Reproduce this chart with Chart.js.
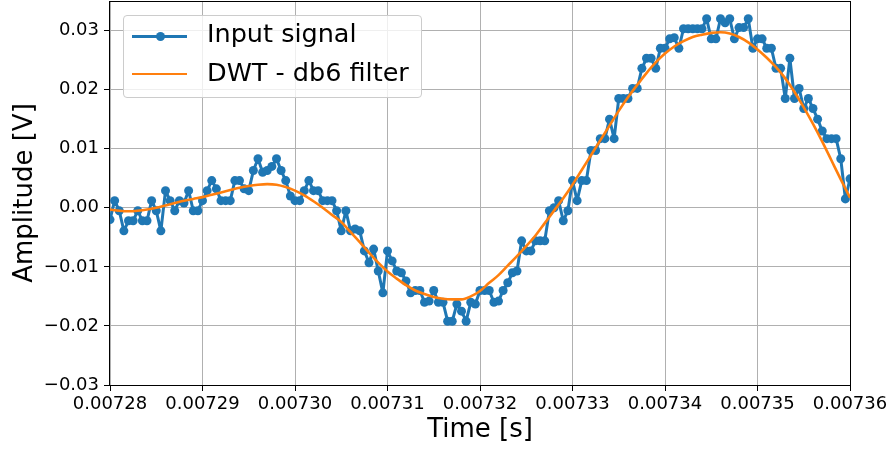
<!DOCTYPE html>
<html>
<head>
<meta charset="utf-8">
<script src="https://cdn.jsdelivr.net/npm/chart.js@4.4.0/dist/chart.umd.min.js"></script>
<style>
html,body{margin:0;padding:0;background:#fff;}
#wrap{position:relative;width:887px;height:449px;overflow:hidden;}
canvas{display:block;}
.leg{position:absolute;left:123px;top:15px;width:297px;height:81px;border:1px solid #cccccc;border-radius:4px;background:rgba(255,255,255,0.8);font-family:"DejaVu Sans",sans-serif;}
.leg .ln{position:absolute;height:3px;}
.leg .dot{position:absolute;width:9px;height:9px;border-radius:50%;background:#1f77b4;}
.leg .tx{position:absolute;font-size:25.5px;line-height:26px;color:#000;white-space:nowrap;}
</style>
</head>
<body>
<div id="wrap">
<canvas id="c" width="887" height="449"></canvas>
<div class="leg">
  <div class="ln" style="left:8px;top:18.5px;width:55px;background:#1f77b4;"></div>
  <div class="dot" style="left:31.5px;top:15.5px;"></div>
  <div class="tx" style="left:83px;top:4px;">Input signal</div>
  <div class="ln" style="left:8px;top:56.5px;width:55px;height:2.5px;background:#ff7f0e;"></div>
  <div class="tx" style="left:83px;top:43px;">DWT - db6 filter</div>
</div>
</div>
<script>
// ---- data ----
const startTime = 0.00728;      // first sample time [s]
const sampleStep = 0.0000005;   // input signal sample spacing [s]
const filterStep = 0.000001;    // spacing of the filtered-curve readings [s]

const inputSignal = [
  -0.0020, 0.0012, -0.0005, -0.0039, -0.0022, -0.0022, -0.0005, -0.0022, -0.0022, 0.0012,
  -0.0005, -0.0039, 0.0029, 0.0012, -0.0005, 0.0012, 0.0008, 0.0029, -0.0005, -0.0005,
  0.0012, 0.0029, 0.0046, 0.0032, 0.0012, 0.0012, 0.0012, 0.0046, 0.0046, 0.0032,
  0.0029, 0.0063, 0.0083, 0.0060, 0.0063, 0.0070, 0.0083, 0.0063, 0.0046, 0.0020,
  0.0012, 0.0012, 0.0029, 0.0046, 0.0029, 0.0029, 0.0012, 0.0012, 0.0012, -0.0005,
  -0.0039, -0.0005, -0.0039, -0.0036, -0.0039, -0.0073, -0.0093, -0.0070, -0.0107, -0.0144,
  -0.0073, -0.0090, -0.0107, -0.0110, -0.0124, -0.0144, -0.0140, -0.0140, -0.0160, -0.0158,
  -0.0140, -0.0160, -0.0160, -0.0192, -0.0192, -0.0163, -0.0175, -0.0192, -0.0160, -0.0163,
  -0.0140, -0.0140, -0.0140, -0.0160, -0.0158, -0.0140, -0.0127, -0.0110, -0.0107, -0.0056,
  -0.0073, -0.0073, -0.0056, -0.0056, -0.0056, -0.0005, 0.0000, 0.0012, -0.0022, -0.0005,
  0.0046, 0.0012, 0.0046, 0.0046, 0.0097, 0.0097, 0.0117, 0.0117, 0.0150, 0.0117,
  0.0185, 0.0185, 0.0185, 0.0202, 0.0202, 0.0236, 0.0253, 0.0253, 0.0236, 0.0270,
  0.0270, 0.0286, 0.0288, 0.0270, 0.0303, 0.0303, 0.0303, 0.0303, 0.0303, 0.0320,
  0.0286, 0.0286, 0.0320, 0.0313, 0.0320, 0.0286, 0.0305, 0.0305, 0.0320, 0.0270,
  0.0286, 0.0286, 0.0270, 0.0270, 0.0236, 0.0236, 0.0185, 0.0253, 0.0185, 0.0202,
  0.0168, 0.0185, 0.0168, 0.0150, 0.0130, 0.0117, 0.0117, 0.0117, 0.0083, 0.0015,
  0.0049
];

const dwtFilter = [
  -0.0003, -0.0005, -0.0006, -0.0005, -0.0003, 0.0000, 0.0004, 0.0008, 0.0012, 0.0015,
  0.0018, 0.0022, 0.0026, 0.0030, 0.0034, 0.0037, 0.0039, 0.0040, 0.0039, 0.0035,
  0.0029, 0.0021, 0.0011, 0.0000, -0.0012, -0.0024, -0.0041, -0.0058, -0.0076, -0.0093,
  -0.0108, -0.0120, -0.0131, -0.0140, -0.0146, -0.0151, -0.0154, -0.0155, -0.0155, -0.0150,
  -0.0141, -0.0127, -0.0114, -0.0098, -0.0082, -0.0065, -0.0047, -0.0026, -0.0005, 0.0016,
  0.0039, 0.0064, 0.0089, 0.0114, 0.0139, 0.0164, 0.0187, 0.0208, 0.0228, 0.0246,
  0.0261, 0.0273, 0.0282, 0.0289, 0.0293, 0.0296, 0.0297, 0.0295, 0.0289, 0.0280,
  0.0268, 0.0254, 0.0238, 0.0219, 0.0196, 0.0170, 0.0142, 0.0112, 0.0080, 0.0048,
  0.0017
];

const xTicks = [0.00728, 0.00729, 0.00730, 0.00731, 0.00732, 0.00733, 0.00734, 0.00735, 0.00736];
const yTicks = [-0.03, -0.02, -0.01, 0.00, 0.01, 0.02, 0.03];
const xMin = 0.00728, xMax = 0.00736;
const yMin = -0.03, yMax = 0.035;

// ---- build datasets ----
const inputPoints = inputSignal.map((v, i) => ({ x: startTime + i * sampleStep, y: v }));
const dwtPoints = dwtFilter.map((v, i) => ({ x: startTime + i * filterStep, y: v }));

const framePlugin = {
  id: 'frame',
  afterDatasetsDraw(chart) {
    const { ctx, chartArea: a } = chart;
    ctx.save();
    ctx.strokeStyle = '#000';
    ctx.lineWidth = 1;
    ctx.strokeRect(Math.round(a.left) - 0.5, Math.round(a.top) + 0.5,
                   Math.round(a.right - a.left) + 1, Math.round(a.bottom - a.top));
    ctx.restore();
  }
};

const tickFont = { family: 'DejaVu Sans', size: 18 };
const titleFont = { family: 'DejaVu Sans', size: 26 };

new Chart(document.getElementById('c'), {
  type: 'line',
  data: {
    datasets: [
      {
        label: 'Input signal',
        data: inputPoints,
        borderColor: '#1f77b4',
        backgroundColor: '#1f77b4',
        borderWidth: 3,
        borderJoinStyle: 'round',
        borderCapStyle: 'round',
        pointRadius: 4.5,
        pointBorderWidth: 0,
        pointBackgroundColor: '#1f77b4',
        tension: 0,
        clip: 0,
        order: 2
      },
      {
        label: 'DWT - db6 filter',
        data: dwtPoints,
        borderColor: '#ff7f0e',
        backgroundColor: '#ff7f0e',
        borderWidth: 2.6,
        borderJoinStyle: 'round',
        pointRadius: 0,
        cubicInterpolationMode: 'monotone',
        clip: 0,
        order: 1
      }
    ]
  },
  options: {
    responsive: false,
    animation: false,
    devicePixelRatio: 1,
    layout: { autoPadding: false, padding: { left: 0, right: 37, top: 1, bottom: 0 } },
    plugins: { legend: { display: false }, tooltip: { enabled: false } },
    scales: {
      x: {
        type: 'linear',
        min: xMin,
        max: xMax,
        afterBuildTicks: s => { s.ticks = xTicks.map(v => ({ value: v })); },
        afterFit: s => { s.height = 64; s.paddingLeft = 0; s.paddingRight = 0; },
        ticks: {
          callback: v => Number(v).toFixed(5),
          font: tickFont,
          color: '#000',
          maxRotation: 0,
          autoSkip: false,
          padding: 3
        },
        grid: { color: '#b0b0b0', lineWidth: 1, tickColor: '#000', tickLength: 6 },
        border: { display: false },
        title: { display: true, text: 'Time [s]', font: titleFont, color: '#000', padding: { top: 0, bottom: 3 } }
      },
      y: {
        type: 'linear',
        min: yMin,
        max: yMax,
        afterBuildTicks: s => { s.ticks = yTicks.map(v => ({ value: v })); },
        afterFit: s => { s.width = 110; s.paddingTop = 0; s.paddingBottom = 0; },
        ticks: {
          callback: v => (v < -1e-9 ? '\u2212' : '') + Math.abs(v).toFixed(2),
          font: tickFont,
          color: '#000',
          padding: 5
        },
        grid: { color: '#b0b0b0', lineWidth: 1, tickColor: '#000', tickLength: 6 },
        border: { display: false },
        title: { display: true, text: 'Amplitude [V]', font: titleFont, color: '#000', padding: { top: 10, bottom: 0 } }
      }
    }
  },
  plugins: [framePlugin]
});
</script>
</body>
</html>
